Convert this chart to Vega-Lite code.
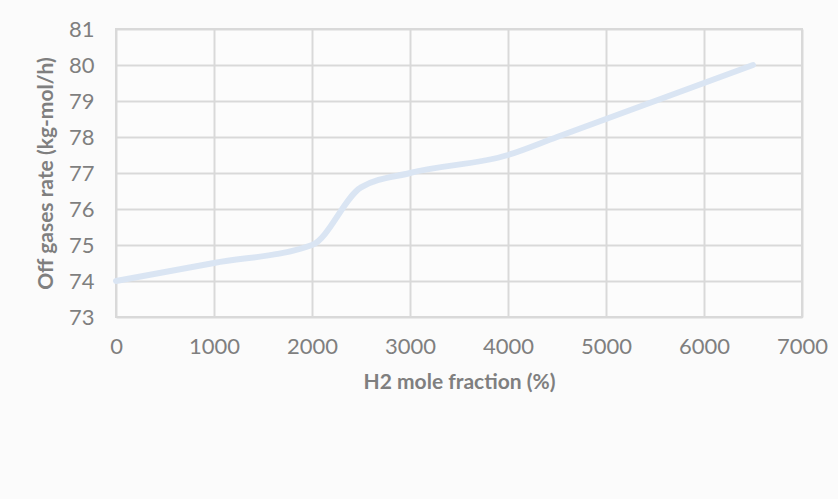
{
  "$schema": "https://vega.github.io/schema/vega-lite/v6.json",
  "autosize": "none",
  "width": 686,
  "height": 288,
  "padding": {"left": 116, "top": 29, "right": 36, "bottom": 182},
  "background": "#fbfbfb",
  "config": {
    "view": {"stroke": "#d9d9d9", "strokeWidth": 2, "fill": "#ffffff", "fillOpacity": 0.4},
    "font": "Lato"
  },
  "data": {
    "values": [
      {"x": 0, "y": 74},
      {"x": 1000, "y": 74.5},
      {"x": 2000, "y": 75},
      {"x": 2500, "y": 76.6},
      {"x": 3000, "y": 77},
      {"x": 4000, "y": 77.5},
      {"x": 4500, "y": 78},
      {"x": 5000, "y": 78.5},
      {"x": 6000, "y": 79.5},
      {"x": 6500, "y": 80}
    ]
  },
  "mark": {"type": "line", "interpolate": "monotone", "color": "#dae5f3", "strokeWidth": 6, "strokeCap": "round"},
  "encoding": {
    "x": {
      "field": "x", "type": "quantitative",
      "scale": {"domain": [0, 7000], "nice": false},
      "axis": {
        "title": "H2 mole fraction (%)",
        "values": [0, 1000, 2000, 3000, 4000, 5000, 6000, 7000],
        "format": "d",
        "grid": true, "gridColor": "#d9d9d9", "gridWidth": 2,
        "domain": false, "ticks": false,
        "labelFontSize": 22, "labelColor": "#7f7f7f", "labelPadding": 19,
        "labelFlush": false,
        "titleFontSize": 21, "titleFontWeight": "bold", "titleColor": "#7f7f7f", "titlePadding": 14
      }
    },
    "y": {
      "field": "y", "type": "quantitative",
      "scale": {"domain": [73, 81], "nice": false, "zero": false},
      "axis": {
        "title": "Off gases rate (kg-mol/h)",
        "values": [73, 74, 75, 76, 77, 78, 79, 80, 81],
        "grid": true, "gridColor": "#d9d9d9", "gridWidth": 2,
        "domain": false, "ticks": false,
        "labelFontSize": 22, "labelColor": "#7f7f7f", "labelPadding": 22,
        "labelFlush": false,
        "titleFontSize": 21, "titleFontWeight": "bold", "titleColor": "#7f7f7f", "titlePadding": 12
      }
    }
  }
}
